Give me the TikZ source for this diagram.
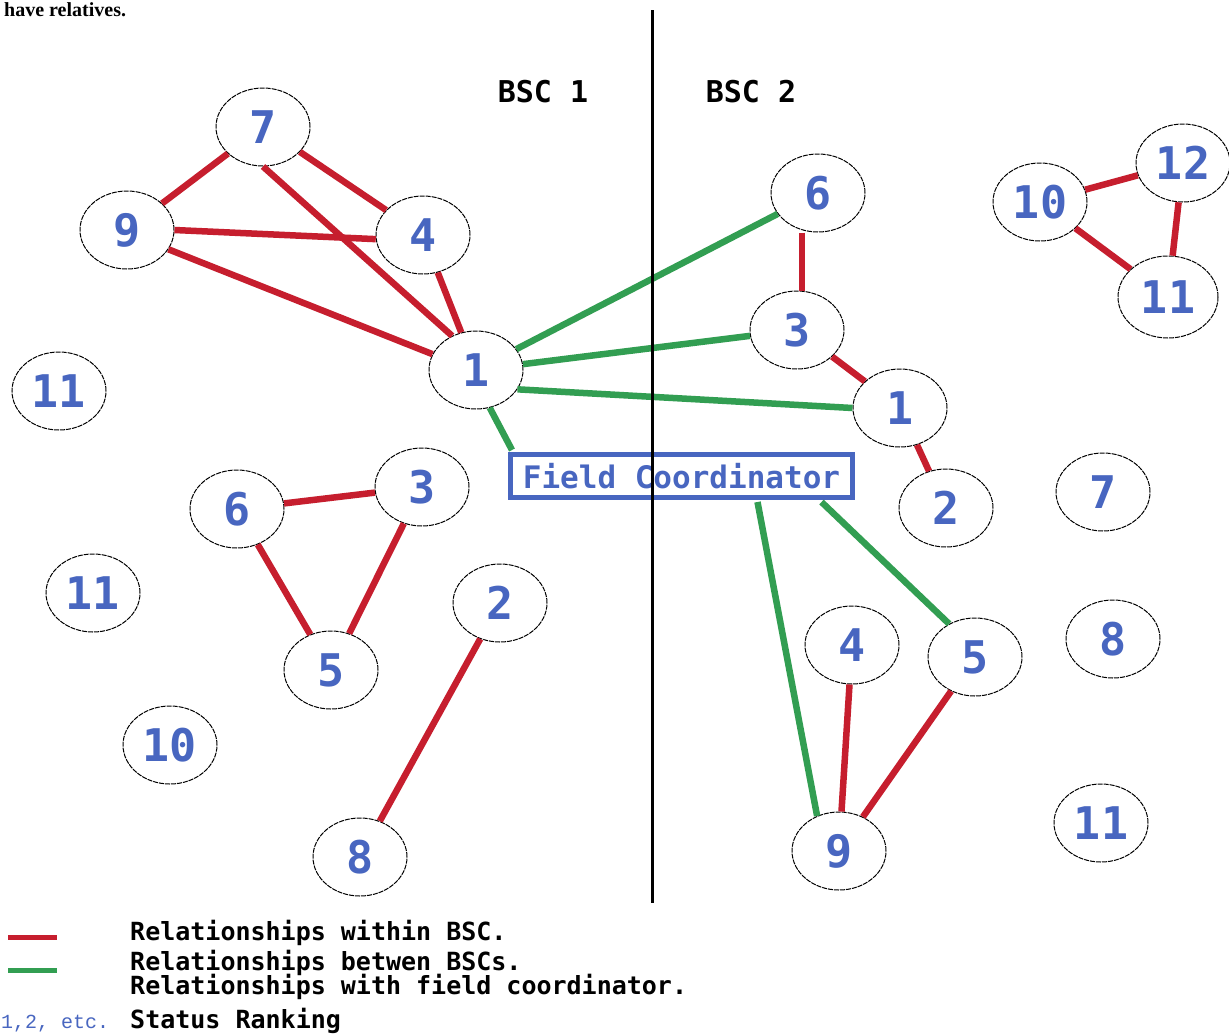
\documentclass[tikz,border=0pt]{standalone}
\usepackage{fontspec}
\setmainfont{DejaVu Sans}
\newfontfamily\dmono{DejaVu Sans Mono}
\newfontfamily\lmono{Liberation Mono}
\newfontfamily\tserif{Liberation Serif}
\usetikzlibrary{shapes.geometric}
\definecolor{ered}{RGB}{198,30,46}
\definecolor{egreen}{RGB}{50,158,82}
\definecolor{nblue}{RGB}{72,102,192}
\tikzset{
  person/.style={ellipse, draw=black, line width=1pt, dash pattern=on 5pt off 1pt,
    fill=white, minimum width=94pt, minimum height=78pt, inner sep=0pt,
    text=nblue, font=\dmono\bfseries\fontsize{45}{50}\selectfont},
  rel/.style={draw=ered, line width=6.5pt},
  link/.style={draw=egreen, line width=6.5pt},
  bsc/.style={font=\dmono\bfseries\fontsize{30}{34}\selectfont, text=black},
  legend/.style={anchor=base west, inner sep=0pt, font=\dmono\bfseries\fontsize{25}{28}\selectfont, text=black},
  fcbox/.style={draw=nblue, line width=5pt, minimum width=342pt, minimum height=43pt,
    inner sep=0pt, text=nblue, font=\dmono\bfseries\fontsize{31}{36}\selectfont}
}
\begin{document}
\begin{tikzpicture}[x=1pt,y=-1pt]
\path[use as bounding box, fill=white] (0,0) rectangle (1229,1034);
\clip (0,0) rectangle (1229,1034);

% text at top
\node[anchor=base west, inner sep=0pt, font=\tserif\bfseries\fontsize{20}{24}\selectfont] (cut) at (4,16) {have relatives.};

% headings
\node[bsc] (b1) at (543,92) {BSC 1};
\node[bsc] (b2) at (751,92) {BSC 2};

% BSC 1 nodes
\node[person] (l7) at (263,127) {7};
\node[person] (l9) at (127,230) {9};
\node[person] (l4) at (423,235) {4};
\node[person] (l1) at (476,370) {1};
\node[person] (l11a) at (59,391) {11};
\node[person] (l6) at (237,509) {6};
\node[person] (l3) at (422,487) {3};
\node[person] (l11b) at (93,593) {11};
\node[person] (l5) at (331,670) {5};
\node[person] (l2) at (500,603) {2};
\node[person] (l10) at (170,745) {10};
\node[person] (l8) at (360,857) {8};

% BSC 2 nodes
\node[person] (r6) at (818,193) {6};
\node[person] (r3) at (797,330) {3};
\node[person] (r1) at (900,408) {1};
\node[person] (r2) at (946,508) {2};
\node[person] (r7) at (1103,492) {7};
\node[person] (r8) at (1113,639) {8};
\node[person] (r4) at (852,645) {4};
\node[person] (r5) at (975,657) {5};
\node[person] (r9) at (839,851) {9};
\node[person] (r11) at (1101,823) {11};
\node[person] (r10) at (1040,202) {10};
\node[person] (r12) at (1183,163) {12};
\node[person, minimum width=100pt, minimum height=82pt] (r11t) at (1168,297) {11};

% field coordinator
\node[fcbox] (fc) at (681.5,476) {Field Coordinator};

% red relationships BSC 1
\draw[rel] (l7) -- (l9);
\draw[rel] (l7) -- (l4);
\draw[rel] (l7.-90) -- (l1.125);
\draw[rel] (l9.0) -- (l4.185);
\draw[rel] (l9.-25) -- (l1.160);
\draw[rel] (l4) -- (l1);
\draw[rel] (l6) -- (l3);
\draw[rel] (l6) -- (l5);
\draw[rel] (l3) -- (l5);
\draw[rel] (l2) -- (l8);

% red relationships BSC 2
\draw[rel] ([xshift=-16pt]r6.south) -- ([xshift=5pt]r3.north);
\draw[rel] (r3) -- (r1);
\draw[rel] (r1) -- (r2);
\draw[rel] (r4) -- (r9);
\draw[rel] (r5) -- (r9);
\draw[rel] (r10) -- (r12);
\draw[rel] (r12) -- (r11t);
\draw[rel] (r10) -- (r11t);

% green relationships
\draw[link] (l1) -- (r6);
\draw[link] (l1) -- (r3);
\draw[link] (l1.-25) -- (r1.180);
\draw[link] (l1.-70) -- ([xshift=4pt,yshift=2pt]fc.north west);
\draw[link] ([xshift=76pt,yshift=-2pt]fc.south) -- (r9.122);
\draw[link] ([xshift=140pt,yshift=-2pt]fc.south) -- (r5.128);

% divider
\coordinate (dtop) at (652,10);
\coordinate (dbot) at (652,903);
\draw[black, line width=3pt] (dtop) -- (dbot);

% legend
\coordinate (lra) at (8,937);
\coordinate (lrb) at (57,937);
\coordinate (lga) at (8,970);
\coordinate (lgb) at (57,970);
\draw[rel, line width=5pt] (lra) -- (lrb);
\draw[link, line width=5pt] (lga) -- (lgb);
\node[legend] (t1) at (130,940) {Relationships within BSC.};
\node[legend] (t2) at (130,970) {Relationships betwen BSCs.};
\node[legend] (t3) at (130,994) {Relationships with field coordinator.};
\node[anchor=base west, inner sep=0pt, text=nblue, font=\lmono\fontsize{20}{22}\selectfont] (t4a) at (1,1028) {1,2, etc.};
\node[legend] (t4) at (130,1028) {Status Ranking};
\end{tikzpicture}
\end{document}
